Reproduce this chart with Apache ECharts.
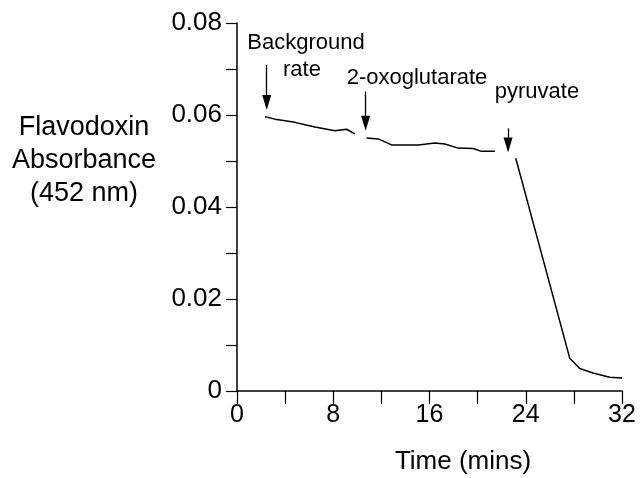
<!DOCTYPE html>
<html>
<head>
<meta charset="utf-8">
<script src="https://cdn.jsdelivr.net/npm/echarts@6/dist/echarts.min.js"></script>
<style>
html,body{margin:0;padding:0;background:#fff;}
#chart{width:643px;height:478px;}
</style>
</head>
<body>
<div id="chart"></div>
<script>
// ---- data ----
var bgTime = [2.33, 3.16, 4.82, 5.65, 6.48, 8.14, 9.11, 9.80];
var bgAbs  = [0.0596, 0.0591, 0.0584, 0.0579, 0.0574, 0.0566, 0.0569, 0.0559];

var oxoTime = [10.77, 11.74, 12.85, 15.06, 16.45, 17.28, 18.38, 19.63, 20.32, 21.43];
var oxoAbs  = [0.0550, 0.0548, 0.0535, 0.0535, 0.0539, 0.0537, 0.0528, 0.0527, 0.0521, 0.0521];

var pyrTime = [23.17, 27.66, 28.49, 29.59, 30.98, 32.0];
var pyrAbs  = [0.0506, 0.0071, 0.0049, 0.0039, 0.0030, 0.0028];

// arrow annotations: time, top absorbance, tip absorbance
var arrowTime   = [2.47, 10.69, 22.53];
var arrowTop    = [0.0709, 0.0651, 0.0571];
var arrowTip    = [0.0627, 0.0582, 0.0535];
var arrowLabels = ['Background', 'rate', '2-oxoglutarate', 'pyruvate'];

var yTitle = ['Flavodoxin', 'Absorbance', '(452 nm)'];
var xTitle = 'Time (mins)';

function pairs(xs, ys){ return xs.map(function(x,i){ return [x, ys[i]]; }); }

var FONT = '"Liberation Sans", Arial, sans-serif';

var arrowLines = arrowTime.map(function(t,i){
  return [{coord:[t, arrowTop[i]]},{coord:[t, arrowTip[i]]}];
});

var lineStyle = {color:'#000', width:1.5};

var chart = echarts.init(document.getElementById('chart'), null, {renderer:'canvas'});
chart.setOption({
  animation:false,
  backgroundColor:'#fff',
  grid:{left:237, right:21, top:23, bottom:87, containLabel:false},
  xAxis:{
    type:'value', min:0, max:32, interval:8,
    axisLine:{show:true, onZero:false, lineStyle:{color:'#000', width:1.5}},
    axisTick:{show:true, inside:false, length:13, lineStyle:{color:'#000', width:1.2}},
    minorTick:{show:true, splitNumber:2, length:13, lineStyle:{color:'#000', width:1.2}},
    splitLine:{show:false},
    axisLabel:{color:'#000', fontSize:25, fontFamily:FONT, margin:12}
  },
  yAxis:{
    type:'value', min:0, max:0.08, interval:0.02,
    axisLine:{show:true, lineStyle:{color:'#000', width:1.5}},
    axisTick:{show:true, inside:false, length:11, lineStyle:{color:'#000', width:1.2}},
    minorTick:{show:true, splitNumber:2, length:11, lineStyle:{color:'#000', width:1.2}},
    splitLine:{show:false},
    axisLabel:{color:'#000', fontSize:26, fontFamily:FONT, margin:15,
      formatter:function(v){ return v===0 ? '0' : v.toFixed(2); }}
  },
  series:[
    {type:'line', data:pairs(bgTime,bgAbs), showSymbol:false, symbol:'none', lineStyle:lineStyle,
      markLine:{silent:true, symbol:['none','triangle'], symbolSize:[9,15],
        label:{show:false}, lineStyle:{color:'#000', width:1.3, type:'solid'},
        data:arrowLines}},
    {type:'line', data:pairs(oxoTime,oxoAbs), showSymbol:false, symbol:'none', lineStyle:lineStyle},
    {type:'line', data:pairs(pyrTime,pyrAbs), showSymbol:false, symbol:'none', lineStyle:lineStyle}
  ],
  graphic:[
    {type:'text', x:306, y:43, style:{text:arrowLabels[0], fill:'#000', font:'22px '+FONT, textAlign:'center', textVerticalAlign:'middle'}},
    {type:'text', x:302, y:70, style:{text:arrowLabels[1], fill:'#000', font:'22px '+FONT, textAlign:'center', textVerticalAlign:'middle'}},
    {type:'text', x:417, y:78, style:{text:arrowLabels[2], fill:'#000', font:'22px '+FONT, textAlign:'center', textVerticalAlign:'middle'}},
    {type:'text', x:537, y:92, style:{text:arrowLabels[3], fill:'#000', font:'22px '+FONT, textAlign:'center', textVerticalAlign:'middle'}},
    {type:'text', x:84, y:128, style:{text:yTitle[0], fill:'#000', font:'27px '+FONT, textAlign:'center', textVerticalAlign:'middle'}},
    {type:'text', x:84, y:161, style:{text:yTitle[1], fill:'#000', font:'27px '+FONT, textAlign:'center', textVerticalAlign:'middle'}},
    {type:'text', x:84, y:194, style:{text:yTitle[2], fill:'#000', font:'27px '+FONT, textAlign:'center', textVerticalAlign:'middle'}},
    {type:'text', x:463, y:462, style:{text:xTitle, fill:'#000', font:'26px '+FONT, textAlign:'center', textVerticalAlign:'middle'}}
  ]
});
</script>
</body>
</html>
